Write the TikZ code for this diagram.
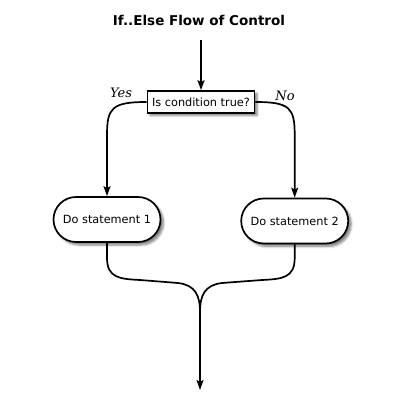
\documentclass[tikz,border=0pt]{standalone}
\usepackage{fontspec}
\setmainfont{DejaVu Sans}
\newfontfamily\serifit{DejaVu Serif}
\usetikzlibrary{arrows.meta,shapes.misc,shadows.blur}
\begin{document}
\begin{tikzpicture}[x=1pt,y=-1pt,
  line width=1.7pt,
  arr/.style={-{Stealth[length=10pt,width=7pt,inset=2pt]}},
  cond/.style={draw,fill=white,rectangle,minimum width=107pt,minimum height=22pt,inner sep=1pt,font=\fontsize{11.3}{12}\selectfont,blur shadow={shadow xshift=2.5pt,shadow yshift=-2.5pt,shadow blur steps=6,shadow opacity=50}},
  stmt/.style={draw,fill=white,rounded rectangle,rounded rectangle arc length=180,minimum width=109pt,minimum height=45pt,inner sep=1pt,font=\fontsize{11.3}{13}\selectfont,blur shadow={shadow xshift=3pt,shadow yshift=-3pt,shadow blur steps=6,shadow opacity=50}},
  lbl/.style={font=\fontsize{13}{15}\selectfont\serifit\itshape}]
\useasboundingbox (0,0) rectangle (404,411);
\node[font=\fontsize{13.5}{15}\selectfont\bfseries] (title) at (199,20) {If..Else Flow of Control};
\coordinate (start) at (201,40);
\node[cond] (q) at (201,102) {Is condition true?};
\node[stmt] (s1) at (107,219.5) {Do statement 1};
\node[stmt] (s2) at (294.7,221) {Do statement 2};
\node[lbl] (yes) at (121,93) {Yes};
\node[lbl] (no) at (285,96) {No};
\coordinate (merge) at (200,312);
\coordinate (end) at (200,390);
\draw[arr] (start) -- (q.north);
\draw[arr] (q.west) .. controls (112,102) and (107,108) .. (107,135) -- (s1.north);
\draw[arr] (q.east) .. controls (290,102) and (294.7,108) .. (294.7,135) -- (s2.north);
\draw (s1.south) -- (107,258) .. controls (107,278) and (120,279) .. (140,280) -- (178,283) .. controls (195,285) and (200,295) .. (merge);
\draw (s2.south) -- (294.7,258) .. controls (294.7,278) and (282,279) .. (262,280) -- (222,283) .. controls (205,285) and (200,295) .. (merge);
\draw[arr] (merge) -- (end);
\end{tikzpicture}
\end{document}
